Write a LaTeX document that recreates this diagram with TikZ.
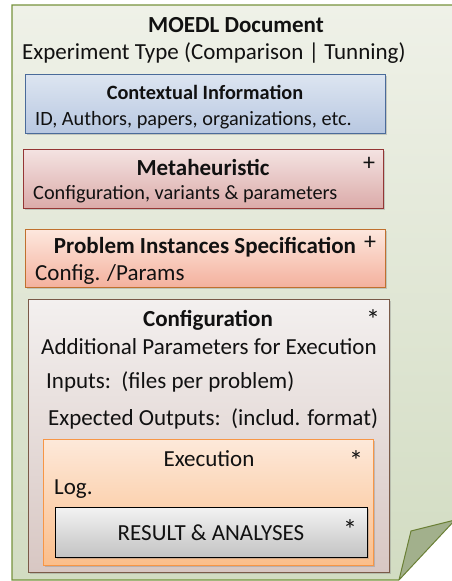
\documentclass[tikz,border=0pt]{standalone}
\usepackage{fontspec}
\setmainfont{Carlito}
\usetikzlibrary{shadows}

% palette
\definecolor{pageTop}{HTML}{EFF1E8}
\definecolor{pageBot}{HTML}{D2DCC2}
\definecolor{pageLine}{HTML}{76923C}
\definecolor{flapFill}{HTML}{A2B08C}
\definecolor{flapLine}{HTML}{6B8036}
\definecolor{ctxTop}{HTML}{DDE5F1}
\definecolor{ctxBot}{HTML}{B8C8E1}
\definecolor{ctxLine}{HTML}{4A6B9A}
\definecolor{metaTop}{HTML}{F4E3E2}
\definecolor{metaBot}{HTML}{DBABA9}
\definecolor{metaLine}{HTML}{943634}
\definecolor{probTop}{HTML}{FDE8DE}
\definecolor{probBot}{HTML}{F4B19E}
\definecolor{probLine}{HTML}{C0702E}
\definecolor{cfgTop}{HTML}{F3F0EF}
\definecolor{cfgBot}{HTML}{D8C7C3}
\definecolor{cfgLine}{HTML}{7A5A48}
\definecolor{exeTop}{HTML}{FDE9DA}
\definecolor{exeBot}{HTML}{FBBE8B}
\definecolor{exeLine}{HTML}{F79646}
\definecolor{resTop}{HTML}{F3F3F3}
\definecolor{resBot}{HTML}{C3C3C3}
\definecolor{ink}{HTML}{111111}

\tikzset{
  panel/.style n args={3}{top color=#1, bottom color=#2, draw=#3, line width=1pt,
    drop shadow={shadow xshift=1.6pt, shadow yshift=-1.6pt, opacity=0.35}},
  lbl/.style={inner sep=0pt, text=ink, anchor=base west},
  ttl/.style={inner sep=0pt, text=ink, anchor=base},
  sign/.style={inner sep=0pt, text=ink, font=\fontsize{24}{26}\selectfont},
  star/.style={inner sep=0pt, text=ink, font=\fontsize{28}{30}\selectfont},
  big/.style={font=\fontsize{23}{26}\selectfont},
  bigb/.style={font=\fontsize{23}{26}\bfseries\selectfont},
  mid/.style={font=\fontsize{20.3}{23}\selectfont},
  midb/.style={font=\fontsize{20.3}{23}\bfseries\selectfont},
}

\begin{document}
\begin{tikzpicture}[x=1pt, y=-1pt]
\useasboundingbox (0,0) rectangle (452,581);

% document page with folded corner
\path[top color=pageTop, bottom color=pageBot, draw=pageLine, line width=1.1pt]
  (12,5) -- (460,5) -- (460,513) -- (399,580) -- (12,580) -- cycle;
\path[fill=white] (399,580) -- (460,513) -- (460,590) -- (399,590) -- cycle;
\path[fill=flapFill, draw=flapLine, line width=1pt, line join=round]
  (399,580) -- (411,531) -- (455,520) -- cycle;

\node[ttl, bigb] (doc) at (236,32) {MOEDL Document};
\node[lbl, big] (exptype) at (22,59) {Experiment Type (Comparison | Tunning)};

% contextual information
\path[panel={ctxTop}{ctxBot}{ctxLine}] (25,74) rectangle (385,133);
\node[ttl, midb] (ctx) at (205,99) {Contextual Information};
\node[lbl, mid] (ctxtxt) at (35,125) {ID, Authors, papers, organizations, etc.};

% metaheuristic
\path[panel={metaTop}{metaBot}{metaLine}] (23,149) rectangle (383,208);
\node[ttl, bigb] (meta) at (203,175) {Metaheuristic};
\node[sign] (metaplus) at (369,164) {+};
\node[lbl, mid] (metatxt) at (33,199) {Configuration, variants \& parameters};

% problem instances
\path[panel={probTop}{probBot}{probLine}] (25,229) rectangle (385,287);
\node[ttl, bigb] (prob) at (205,253) {Problem Instances Specification};
\node[sign] (probplus) at (370,243) {+};
\node[lbl, big] (probtxt) at (35,280) {Config. /Params};

% configuration
\path[panel={cfgTop}{cfgBot}{cfgLine}] (28,299) rectangle (389,572);
\node[ttl, bigb] (cfg) at (208,326) {Configuration};
\node[star] (cfgstar) at (373,320) {*};
\node[lbl, big] (cfgadd) at (41,354) {Additional Parameters for Execution};
\node[lbl, big] (cfgin) at (46,388) {Inputs:\ \ (files per problem)};
\node[lbl, big] (cfgout) at (48,425) {Expected Outputs:\ \ (includ. format)};

% execution
\path[panel={exeTop}{exeBot}{exeLine}] (43,439) rectangle (373,565);
\node[ttl, big] (exe) at (209,466) {Execution};
\node[star] (exestar) at (356,461) {*};
\node[lbl, big] (log) at (54,494) {Log.};

% results
\path[panel={resTop}{resBot}{black}] (55,507) rectangle (367,557);
\node[ttl, big] (res) at (211,540) {RESULT \& ANALYSES};
\node[star] (resstar) at (350,530) {*};
\end{tikzpicture}
\end{document}
